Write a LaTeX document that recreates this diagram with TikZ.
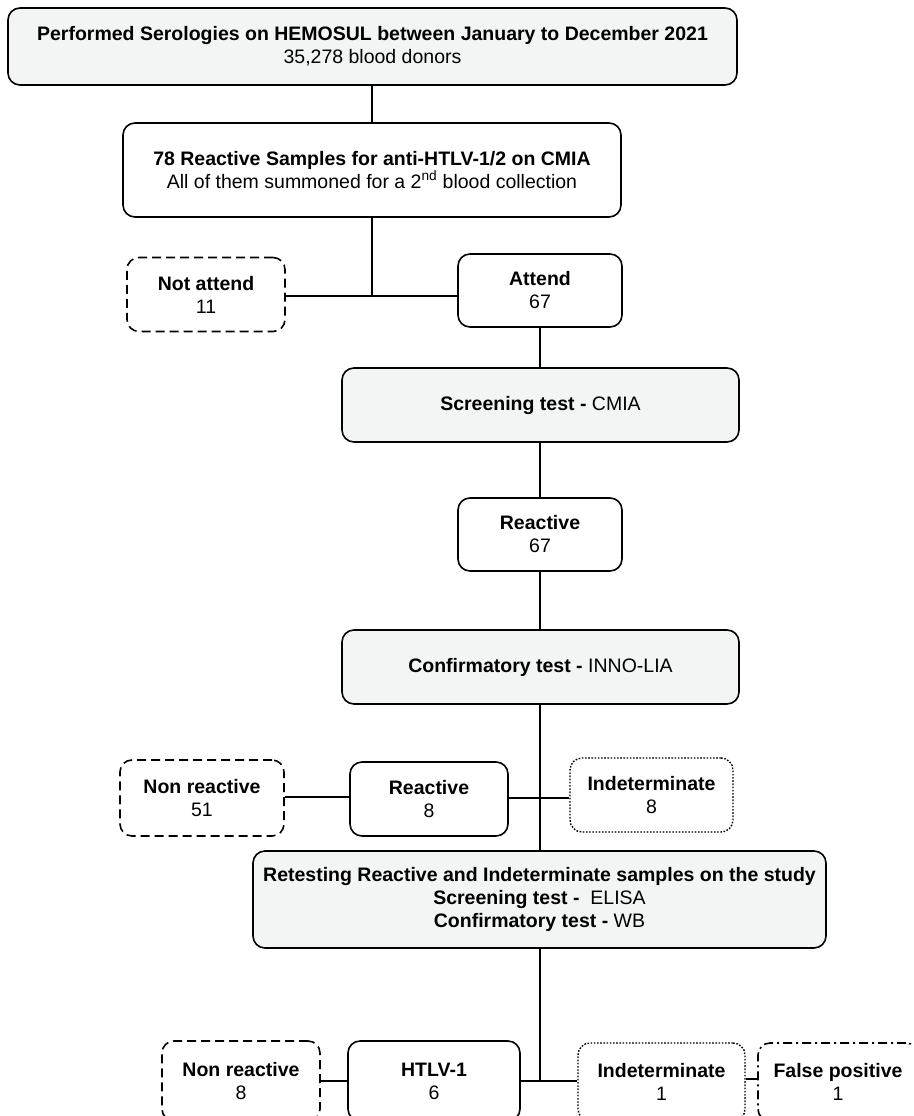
\documentclass[tikz,border=0pt]{standalone}
\usepackage{fontspec}
\setmainfont{Liberation Sans}
\usetikzlibrary{positioning}
\definecolor{boxgray}{HTML}{F3F4F4}
\tikzset{
  base/.style={draw=black, line width=1.6pt, rounded corners=12pt, align=center,
    font=\fontsize{19.5}{23}\selectfont, inner sep=0pt, fill=white},
  graybox/.style={base, fill=boxgray},
  whitebox/.style={base},
  dashbox/.style={base, dash pattern=on 9pt off 5pt},
  dotbox/.style={base, dash pattern=on 1.6pt off 1.6pt, line width=1.4pt},
  dashdotbox/.style={base, dash pattern=on 9pt off 4pt on 2pt off 4pt},
  link/.style={draw=black, line width=1.6pt},
}
\begin{document}
\begin{tikzpicture}[x=1pt,y=-1pt]
\path[use as bounding box] (0,0) rectangle (913,1116);
\clip (0,0) rectangle (913,1116);
% nodes
\node[graybox, minimum width=729pt, minimum height=77pt] (b1) at (372.5,46.5)
  {\textbf{Performed Serologies on HEMOSUL between January to December 2021}\\35,278 blood donors};
\node[whitebox, minimum width=498pt, minimum height=94pt] (b2) at (372,170)
  {\textbf{78 Reactive Samples for anti-HTLV-1/2 on CMIA}\\All of them summoned for a 2\textsuperscript{nd} blood collection};
\node[dashbox, minimum width=158pt, minimum height=74pt] (na) at (206,294.5)
  {\textbf{Not attend}\\11};
\node[whitebox, minimum width=164pt, minimum height=73pt] (at) at (540,290.5)
  {\textbf{Attend}\\67};
\node[graybox, minimum width=397pt, minimum height=74pt] (sc) at (540.5,405)
  {\textbf{Screening test -} CMIA};
\node[whitebox, minimum width=164pt, minimum height=73pt] (r67) at (540,534.5)
  {\textbf{Reactive}\\67};
\node[graybox, minimum width=397pt, minimum height=74pt] (cf) at (540.5,667)
  {\textbf{Confirmatory test -} INNO-LIA};
\node[dashbox, minimum width=164pt, minimum height=76pt] (nr51) at (202,798)
  {\textbf{Non reactive}\\51};
\node[whitebox, minimum width=158pt, minimum height=74pt] (r8) at (429,799)
  {\textbf{Reactive}\\8};
\node[dotbox, minimum width=163pt, minimum height=74pt] (in8) at (651.5,795)
  {\textbf{Indeterminate}\\8};
\node[graybox, minimum width=573pt, minimum height=97pt] (rt) at (539.5,899.5)
  {\textbf{Retesting Reactive and Indeterminate samples on the study}\\
   \textbf{Screening test -}\ \ ELISA\\
   \textbf{Confirmatory test -} WB};
\node[dashbox, minimum width=158pt, minimum height=80pt] (nr8) at (241,1081)
  {\textbf{Non reactive}\\8};
\node[whitebox, minimum width=172pt, minimum height=80pt] (h1) at (434,1081)
  {\textbf{HTLV-1}\\6};
\node[dotbox, minimum width=167pt, minimum height=78pt] (in1) at (661.5,1082)
  {\textbf{Indeterminate}\\1};
\node[dashdotbox, minimum width=160pt, minimum height=78pt] (fp) at (838,1082)
  {\textbf{False positive}\\1};
% junctions
\coordinate (j1) at (372,296);
\coordinate (j2) at (540,798);
\coordinate (j3) at (540,1081);
% connectors
\draw[link] (b1.south -| j1) -- (b2.north -| j1);
\draw[link] (b2.south -| j1) -- (j1);
\draw[link] (na.east |- j1) -- (at.west |- j1);
\draw[link] (at.south) -- (sc.north -| at.south);
\draw[link] (sc.south -| at.south) -- (r67.north);
\draw[link] (r67.south) -- (cf.north -| r67.south);
\draw[link] (cf.south -| j2) -- (rt.north -| j2);
\draw[link] (nr51.east |- 0,797) -- (r8.west |- 0,797);
\draw[link] (r8.east |- j2) -- (in8.west |- j2);
\draw[link] (rt.south -| j3) -- (j3);
\draw[link] (nr8.east |- j3) -- (h1.west |- j3);
\draw[link] (h1.east |- j3) -- (in1.west |- j3);
\draw[link] (in1.east |- 0,1079) -- (fp.west |- 0,1079);
\end{tikzpicture}
\end{document}
